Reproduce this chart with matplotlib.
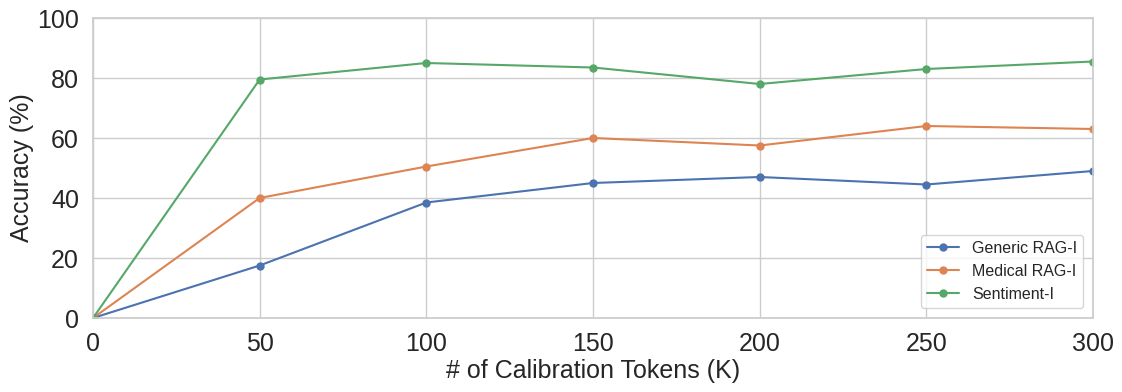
import matplotlib
matplotlib.use("Agg")
import matplotlib.pyplot as plt
import seaborn as sns

sns.set_theme(style="whitegrid", palette="deep")
plt.rcParams['font.family'] = ['Liberation Sans', 'DejaVu Sans']

tokens = [0, 50, 100, 150, 200, 250, 300]
generic = [0, 17.5, 38.5, 45, 47, 44.5, 49]
medical = [0, 40, 50.5, 60, 57.5, 64, 63]
sentiment = [0, 79.5, 85, 83.5, 78, 83, 85.5]

fig = plt.figure(figsize=(11.22, 3.92), dpi=100)
ax = fig.add_axes([93/1122, 1-318/392, 1000/1122, 300/392])
ax.plot(tokens, generic, marker='o', markersize=5, linewidth=1.5, label='Generic RAG-I')
ax.plot(tokens, medical, marker='o', markersize=5, linewidth=1.5, label='Medical RAG-I')
ax.plot(tokens, sentiment, marker='o', markersize=5, linewidth=1.5, label='Sentiment-I')
ax.set_xlim(0, 300)
ax.set_ylim(0, 100)
ax.set_xticks(tokens)
ax.set_yticks([0, 20, 40, 60, 80, 100])
ax.tick_params(labelsize=18, colors='#262626', pad=4)
ax.set_xlabel('# of Calibration Tokens (K)', fontsize=18, color='#262626', labelpad=2)
ax.set_ylabel('Accuracy (%)', fontsize=18, color='#262626', labelpad=2)
ax.legend(loc='lower right', fontsize=11.5, borderaxespad=0.6)
fig.savefig('out.png', dpi=100)
